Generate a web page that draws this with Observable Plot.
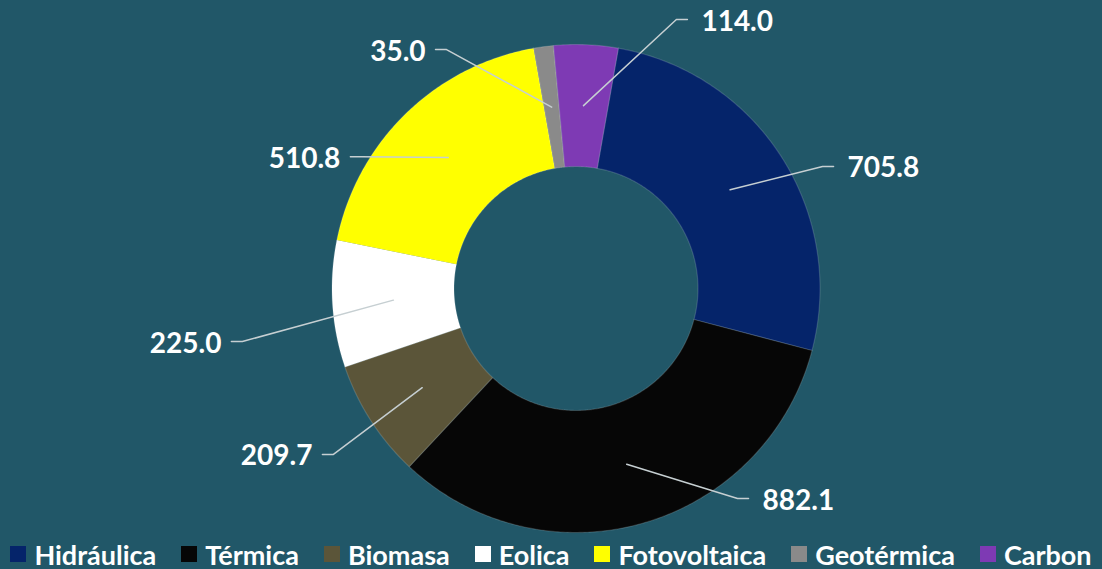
<!DOCTYPE html>
<html><head><meta charset="utf-8">
<script src="https://cdn.jsdelivr.net/npm/d3@7"></script>
<script src="https://cdn.jsdelivr.net/npm/@observablehq/plot@0.6"></script>
<style>
html,body{margin:0;padding:0;background:#215768;width:1102px;height:569px;overflow:hidden;}
#chart svg{display:block}
.lg-swatches{margin:0!important;justify-content:center;min-height:28px!important;height:28px;line-height:27px;font-family:Lato,sans-serif!important;font-weight:700;font-size:27px!important;color:#fff;}
.lg-swatch{margin-right:25px!important}
.lg-swatch:last-child{margin-right:0!important}
.lg-swatch > svg{margin-right:8px!important}
</style></head><body><div id="chart"></div>
<script>
// ---- data ----
const categories = ["Hidráulica","Térmica","Biomasa","Eolica","Fotovoltaica","Geotérmica","Carbon"];
const values = [705.8, 882.1, 209.7, 225.0, 510.8, 35.0, 114.0];
// ---- style / layout ----
const palette = ["#05246a","#060606","#5b5539","#ffffff","#ffff00","#8a8a8a","#7e3ab4"];
const labelAngle = [64.65, 140.6, 236.8, 261.25, 300.3, 329.55, 22.5];   // degrees, clockwise from top
const labelRadius = [1.168, 1.114, 1.242, 1.429, 1.071, 1.136, 1.193];  // fraction of outer radius
const START = 10 * Math.PI / 180;
const R1 = 1, R0 = 0.5, RC = 0.75;
const PX = 244; // pixels per unit radius
const W = 1102, H = 540, CX = 575.5, CY = 288;

const arcs = d3.pie().sort(null).value(d => d).startAngle(START).endAngle(START + 2 * Math.PI)(values);

const slicePts = [];
arcs.forEach((a, i) => {
  const n = Math.max(2, Math.ceil((a.endAngle - a.startAngle) / 0.01));
  const pts = [];
  for (let k = 0; k <= n; k++) { const t = a.startAngle + (a.endAngle - a.startAngle) * k / n; pts.push([R1 * Math.sin(t), R1 * Math.cos(t)]); }
  for (let k = n; k >= 0; k--) { const t = a.startAngle + (a.endAngle - a.startAngle) * k / n; pts.push([R0 * Math.sin(t), R0 * Math.cos(t)]); }
  pts.push(pts[0]);
  pts.forEach(p => slicePts.push({name: categories[i], x: p[0], y: p[1]}));
});

const fmt = d3.format(".1f");
const leaders = [];
const labels = arcs.map((a, i) => {
  const mid = (a.startAngle + a.endAngle) / 2;
  const la = labelAngle[i] * Math.PI / 180;
  const ex = labelRadius[i] * Math.sin(la), ey = labelRadius[i] * Math.cos(la);
  const right = ex > 0;
  const bx = ex + (right ? -11 : 11) / PX;
  leaders.push({name: categories[i], x: RC * Math.sin(mid), y: RC * Math.cos(mid)});
  leaders.push({name: categories[i], x: bx, y: ey});
  leaders.push({name: categories[i], x: ex, y: ey});
  return {name: categories[i], x: ex, y: ey, right, text: fmt(values[i])};
});

const textStyle = {fill: "#ffffff", fontFamily: "Lato, sans-serif", fontWeight: "bold", fontSize: 28, dy: 2};

const chart = Plot.plot({
  width: W, height: H, margin: 0,
  x: {domain: [-CX / PX, (W - CX) / PX], axis: null},
  y: {domain: [-(H - CY) / PX, CY / PX], axis: null},
  color: {domain: categories, range: palette},
  style: {background: "transparent", overflow: "visible"},
  marks: [
    Plot.line(slicePts, {x: "x", y: "y", z: "name", fill: "name", stroke: "#ffffff", strokeOpacity: 0.15, strokeWidth: 1.2, curve: "linear"}),
    Plot.line(leaders, {x: "x", y: "y", z: "name", stroke: "#c6cfd2", strokeWidth: 1.5}),
    Plot.text(labels.filter(d => d.right), {x: "x", y: "y", text: "text", textAnchor: "start", dx: 14, ...textStyle}),
    Plot.text(labels.filter(d => !d.right), {x: "x", y: "y", text: "text", textAnchor: "end", dx: -10, ...textStyle})
  ]
});

const legend = Plot.legend({color: {type: "ordinal", domain: categories, range: palette}, swatchSize: 16, className: "lg"});

const root = document.getElementById("chart");
root.appendChild(chart);
root.appendChild(legend);
</script>
</body></html>
